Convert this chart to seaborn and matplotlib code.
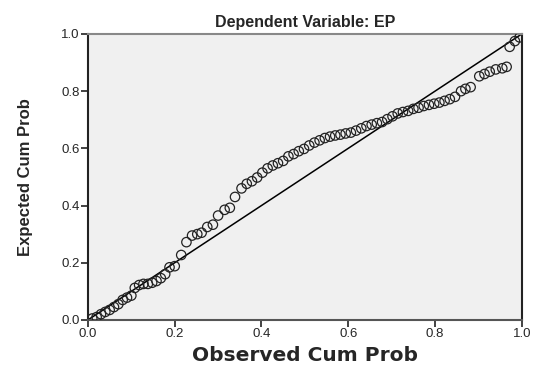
import matplotlib
matplotlib.use("Agg")
import matplotlib.pyplot as plt
import pandas as pd
import seaborn as sns

# observed vs expected cumulative probabilities
observed = [
    0.010, 0.020, 0.030, 0.040, 0.050, 0.060, 0.070, 0.080, 0.090, 0.100,
    0.108, 0.118, 0.128, 0.138, 0.148, 0.158, 0.168, 0.178, 0.188, 0.200,
    0.215, 0.227, 0.240, 0.252, 0.262, 0.275, 0.288, 0.300, 0.315, 0.327,
    0.339, 0.354, 0.366, 0.378, 0.390, 0.402, 0.414, 0.426, 0.438, 0.450,
    0.462, 0.474, 0.486, 0.498, 0.510, 0.522, 0.534, 0.546, 0.558, 0.570,
    0.582, 0.594, 0.606, 0.618, 0.630, 0.642, 0.654, 0.666, 0.678, 0.690,
    0.702, 0.714, 0.726, 0.738, 0.750, 0.762, 0.774, 0.786, 0.798, 0.810,
    0.822, 0.834, 0.846, 0.860, 0.870, 0.882, 0.902, 0.914, 0.926, 0.940,
    0.955, 0.965, 0.972, 0.984, 0.995,
]
expected = [
    0.005, 0.010, 0.020, 0.028, 0.035, 0.045, 0.055, 0.070, 0.078, 0.085,
    0.112, 0.122, 0.126, 0.126, 0.130, 0.136, 0.146, 0.160, 0.184, 0.188,
    0.227, 0.272, 0.295, 0.300, 0.305, 0.325, 0.333, 0.365, 0.385, 0.392,
    0.430, 0.460, 0.476, 0.485, 0.498, 0.515, 0.530, 0.540, 0.548, 0.556,
    0.572, 0.580, 0.590, 0.598, 0.610, 0.620, 0.628, 0.636, 0.641, 0.645,
    0.648, 0.652, 0.655, 0.662, 0.670, 0.678, 0.683, 0.688, 0.692, 0.702,
    0.712, 0.722, 0.727, 0.731, 0.738, 0.742, 0.748, 0.752, 0.756, 0.760,
    0.766, 0.772, 0.780, 0.800, 0.808, 0.814, 0.852, 0.860, 0.868, 0.876,
    0.880, 0.885, 0.955, 0.975, 0.988,
]
ref_line = [0.0, 1.0]
ticks = [0.0, 0.2, 0.4, 0.6, 0.8, 1.0]
tick_labels = ["0.0", "0.2", "0.4", "0.6", "0.8", "1.0"]

df = pd.DataFrame({"observed": observed, "expected": expected})

sns.set_theme(style="white")
plt.rcParams["font.family"] = ["Liberation Sans", "DejaVu Sans"]

fig = plt.figure(figsize=(5.33, 3.69), dpi=100)
ax = fig.add_axes([0.165, 0.133, 0.814, 0.775])
ax.set_facecolor("#f0f0f0")

sns.lineplot(x=ref_line, y=ref_line, ax=ax, color="black", linewidth=1.1)
sns.scatterplot(
    data=df, x="observed", y="expected", ax=ax,
    s=46, facecolor="none", edgecolor="#222222", linewidth=0.9, zorder=3,
)

ax.set_xlim(0, 1)
ax.set_ylim(0, 1)
ax.set_xticks(ticks, tick_labels)
ax.set_yticks(ticks, tick_labels)
ax.tick_params(axis="both", direction="out", length=5, width=1.2,
               color="#222222", labelsize=9.5, bottom=True, left=True, pad=1)

for name, spine in ax.spines.items():
    spine.set_visible(True)
    spine.set_color("#222222")
    spine.set_linewidth(1.5)
ax.spines["top"].set_color("#888888")
ax.spines["bottom"].set_color("#555555")

ax.set_xlabel("Observed Cum Prob", fontsize=14.5, fontweight="bold",
              family=["DejaVu Sans"], labelpad=4)
ax.set_ylabel("Expected Cum Prob", fontsize=12, fontweight="bold", labelpad=20)
ax.set_title("Dependent Variable: EP", fontsize=11.5, fontweight="bold", pad=5)

fig.savefig("out.png", dpi=100, facecolor="white")
